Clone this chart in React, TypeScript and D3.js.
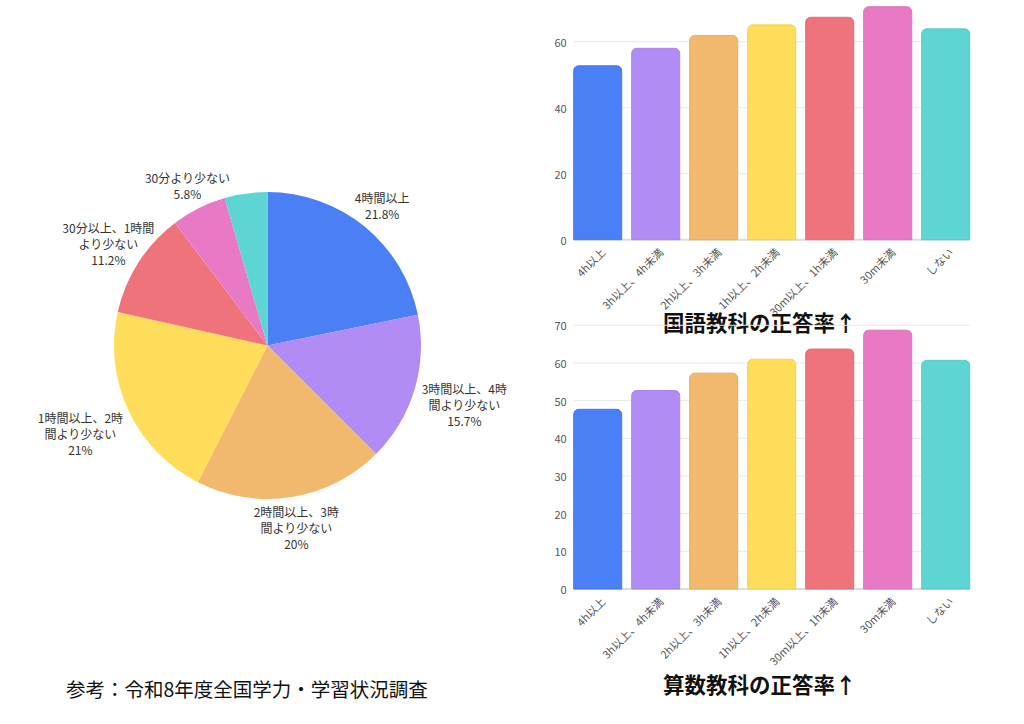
import * as d3 from "d3";

// study time share (pie)
const timeCategories = [
  "4時間以上",
  "3時間以上、4時間より少ない",
  "2時間以上、3時間より少ない",
  "1時間以上、2時間より少ない",
  "30分以上、1時間より少ない",
  "30分より少ない",
  "全くしない",
];
const timeShares = [21.8, 15.7, 20, 21, 11.2, 5.8, 4.5];
const pieLabelLines = [
  ["4時間以上", "21.8%"],
  ["3時間以上、4時", "間より少ない", "15.7%"],
  ["2時間以上、3時", "間より少ない", "20%"],
  ["1時間以上、2時", "間より少ない", "21%"],
  ["30分以上、1時間", "より少ない", "11.2%"],
  ["30分より少ない", "5.8%"],
  [],
];

// correct answer rate by study time (bars)
const barCategories = [
  "4h以上",
  "3h以上、4h未満",
  "2h以上、3h未満",
  "1h以上、2h未満",
  "30m以上、1h未満",
  "30m未満",
  "しない",
];
const japaneseRates = [52.7, 58.0, 61.9, 65.1, 67.4, 70.6, 63.9];
const mathRates = [47.7, 52.7, 57.3, 61.0, 63.7, 68.7, 60.7];
const japaneseTicks = [0, 20, 40, 60];
const mathTicks = [0, 10, 20, 30, 40, 50, 60, 70];

const palette = [
  "#4b7ff6",
  "#b08cf4",
  "#f2b86d",
  "#fedd5b",
  "#ee737b",
  "#e879c4",
  "#5dd5d3",
];

const FONT = "'Noto Sans CJK JP', 'Noto Sans', sans-serif";

const measureCanvas = document.createElement("canvas").getContext("2d")!;
function textWidth(s: string, size: number) {
  measureCanvas.font = `${size}px 'Noto Sans CJK JP'`;
  return measureCanvas.measureText(s).width;
}

function roundedTopBar(x: number, y: number, w: number, h: number, r: number) {
  const rr = Math.min(r, w / 2, h);
  return `M${x},${y + h}V${y + rr}A${rr},${rr} 0 0 1 ${x + rr},${y}H${x + w - rr}A${rr},${rr} 0 0 1 ${x + w},${y + rr}V${y + h}Z`;
}

// push a multi-line label out along the slice direction until
// every line's box clears the pie edge by `gap`
function labelDistance(
  vx: number,
  vy: number,
  halfWidths: number[],
  lineH: number,
  minDist: number
) {
  const n = halfWidths.length;
  for (let d = minDist * 0.6; d < minDist + 300; d += 0.25) {
    const cx = vx * d;
    const cy = vy * d;
    let closest = Infinity;
    halfWidths.forEach((hw, j) => {
      const ly = cy + (j - (n - 1) / 2) * lineH;
      const x0 = cx - hw;
      const x1 = cx + hw;
      const y0 = ly - lineH / 2;
      const y1 = ly + lineH / 2;
      const px = Math.max(x0, Math.min(0, x1));
      const py = Math.max(y0, Math.min(0, y1));
      closest = Math.min(closest, Math.hypot(px, py));
    });
    if (closest >= minDist) return d;
  }
  return minDist;
}

function PieChart() {
  const cx = 267.5;
  const cy = 345.5;
  const radius = 153.5;
  const pie = d3.pie<number>().sort(null).value((d) => d);
  const arc = d3.arc<d3.PieArcDatum<number>>().innerRadius(0).outerRadius(radius);
  const arcs = pie(timeShares);
  const fontSize = 12;
  const lineH = 16;
  const gap = 4.5;

  return (
    <g transform={`translate(${cx},${cy})`}>
      {arcs.map((d, i) => (
        <path key={timeCategories[i]} d={arc(d) || ""} fill={palette[i]} />
      ))}
      {arcs.map((d, i) => {
        const lines = pieLabelLines[i];
        if (!lines.length) return null;
        const a = (d.startAngle + d.endAngle) / 2;
        const vx = Math.sin(a);
        const vy = -Math.cos(a);
        const halfWidths = lines.map((l) => textWidth(l, fontSize) / 2);
        const dist = labelDistance(vx, vy, halfWidths, lineH, radius + gap);
        const lx = vx * dist;
        const ly = vy * dist;
        return (
          <text
            key={`lbl-${i}`}
            textAnchor="middle"
            fontSize={fontSize}
            fill="#333"
            fontFamily={FONT}
          >
            {lines.map((l, j) => (
              <tspan
                key={j}
                x={lx}
                y={ly + (j - (lines.length - 1) / 2) * lineH}
                dominantBaseline="central"
              >
                {l}
              </tspan>
            ))}
          </text>
        );
      })}
    </g>
  );
}

interface BarChartProps {
  values: number[];
  ticks: number[];
  domainMax: number;
  y0: number;
  y1: number;
  title: string;
  titleY: number;
}

function BarChart({ values, ticks, domainMax, y0, y1, title, titleY }: BarChartProps) {
  const x = d3
    .scaleBand<string>()
    .domain(barCategories)
    .range([573.7, 969.7])
    .paddingInner(0.172)
    .paddingOuter(0);
  const y = d3.scaleLinear().domain([0, domainMax]).range([y0, y1]);
  const [xl, xr] = x.range();

  return (
    <g fontFamily={FONT}>
      {ticks.map((t) => (
        <g key={t}>
          <line
            x1={xl}
            x2={xr}
            y1={y(t)}
            y2={y(t)}
            stroke={t === 0 ? "#dcdcdc" : "#e8e8e8"}
            strokeWidth={t === 0 ? 2 : 1}
          />
          <text
            x={xl - 7}
            y={y(t)}
            textAnchor="end"
            dominantBaseline="central"
            fontSize={11}
            fill="#555"
          >
            {t}
          </text>
        </g>
      ))}
      {values.map((v, i) => {
        const c = barCategories[i];
        const bx = x(c)!;
        return (
          <path
            key={c}
            d={roundedTopBar(bx, y(v), x.bandwidth(), y(0) - y(v), 5)}
            fill={palette[i]}
            stroke={d3.color(palette[i])!.darker(0.15).formatHex()}
            strokeWidth={1}
          />
        );
      })}
      {barCategories.map((c) => {
        const bx = x(c)! + x.bandwidth() / 2;
        return (
          <text
            key={`x-${c}`}
            transform={`translate(${bx + 5},${y(0) + 10}) rotate(-45)`}
            textAnchor="end"
            dominantBaseline="central"
            fontSize={11}
            fill="#555"
          >
            {c}
          </text>
        );
      })}
      <text
        x={(xl + xr) / 2 - 12}
        y={titleY}
        textAnchor="middle"
        fontSize={21.5}
        fontWeight="bold"
        fill="#111"
      >
        {title}
      </text>
    </g>
  );
}

export default function App() {
  return (
    <svg
      width={1024}
      height={724}
      style={{ position: "absolute", left: 0, top: 0, background: "#fff" }}
    >
      <PieChart />
      <BarChart
        values={japaneseRates}
        ticks={japaneseTicks}
        domainMax={80}
        y0={239.7}
        y1={239.7 - 80 * 3.3}
        title="国語教科の正答率↑"
        titleY={331}
      />
      <BarChart
        values={mathRates}
        ticks={mathTicks}
        domainMax={70}
        y0={589}
        y1={325.3}
        title="算数教科の正答率↑"
        titleY={693}
      />
      <text
        x={66}
        y={697}
        fontSize={19.5}
        fill="#111"
        fontFamily={FONT}
      >
        参考：令和8年度全国学力・学習状況調査
      </text>
    </svg>
  );
}
